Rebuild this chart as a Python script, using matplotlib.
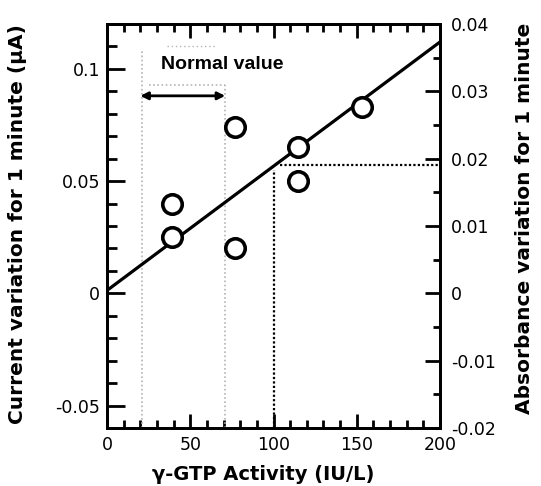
import numpy as np
import matplotlib.pyplot as plt
from matplotlib.ticker import MultipleLocator, FuncFormatter

plt.rcParams['axes.unicode_minus'] = False

# measured points (gamma-GTP activity vs current variation)
activity = [39, 39, 77, 77, 115, 115, 153]
current = [0.040, 0.025, 0.074, 0.020, 0.065, 0.050, 0.083]

# calibration line end points
fit_x = [0, 200]
fit_y = [0.0013, 0.112]

# normal range and the read-off example
normal_lo, normal_hi = 21, 71
read_x, read_y = 100, 0.057

xlim = (0, 200)
ylim_left = (-0.06, 0.12)
ylim_right = (-0.02, 0.04)
xticks = [0, 50, 100, 150, 200]
yticks_left = [-0.05, 0, 0.05, 0.1]

fmt = FuncFormatter(lambda v, p: '%g' % round(v, 4))

fig = plt.figure(figsize=(5.41, 4.86), dpi=100)
ax = fig.add_axes([0.1978, 0.1193, 0.6155, 0.8313])
ax2 = ax.twinx()

# grey dotted box for the normal value range
grey = '#b4b4b4'
ax.plot([normal_lo, normal_lo], [ylim_left[0], 0.108], ls=(0, (1, 1.5)), color=grey, lw=1.2)
ax.plot([normal_hi, normal_hi], [ylim_left[0], 0.093], ls=(0, (1, 1.5)), color=grey, lw=1.2)
ax.plot([normal_lo + 4, normal_hi], [0.093, 0.093], ls=(0, (1, 1.5)), color=grey, lw=1.2)
ax.plot([normal_lo + 15, normal_hi - 6], [0.110, 0.110], ls=(0, (1, 2)), color=grey, lw=1)

ax.annotate('', xy=(normal_lo - 1, 0.088), xytext=(normal_hi, 0.088),
            arrowprops=dict(arrowstyle='<|-|>', lw=2, color='black', mutation_scale=11,
                            shrinkA=0, shrinkB=0))
ax.text(32.5, 0.1018, 'Normal value', fontsize=14, fontweight='bold',
        family='Liberation Sans', ha='left', va='center')

# read-off dotted lines
ax.plot([read_x, read_x], [ylim_left[0], read_y - 0.002], ls=(0, (1, 1)), color='black', lw=1.6)
ax.plot([read_x + 4, xlim[1]], [read_y, read_y], ls=(0, (1, 1)), color='black', lw=1.6)

ax.plot(fit_x, fit_y, color='black', lw=2.3, zorder=3)
ax.plot(activity, current, 'o', ms=14, mfc='white', mec='black', mew=2.6, zorder=4,
        clip_on=False)

ax.set_xlim(*xlim)
ax.set_ylim(*ylim_left)
ax2.set_ylim(*ylim_right)

ax.set_xticks(xticks)
ax.xaxis.set_minor_locator(MultipleLocator(10))
ax.set_yticks(yticks_left)
ax.yaxis.set_minor_locator(MultipleLocator(0.01))
ax.yaxis.set_major_formatter(fmt)
ax2.yaxis.set_major_locator(MultipleLocator(0.01))
ax2.yaxis.set_minor_locator(MultipleLocator(0.005))
ax2.yaxis.set_major_formatter(fmt)

ax.tick_params(axis='x', which='both', direction='in', top=True, labelsize=12.5, width=2, pad=6)
ax.tick_params(axis='x', which='major', length=10)
ax.tick_params(axis='x', which='minor', length=5.5)
ax.tick_params(axis='y', which='both', direction='in', right=False, labelsize=12.5, width=2, pad=5)
ax.tick_params(axis='y', which='major', length=13)
ax.tick_params(axis='y', which='minor', length=7)
ax2.tick_params(axis='y', which='both', direction='in', labelsize=12.5, width=2, pad=8)
ax2.tick_params(axis='y', which='major', length=11)
ax2.tick_params(axis='y', which='minor', length=5)

for a in (ax, ax2):
    for s in a.spines.values():
        s.set_linewidth(2)

ax.set_xlabel('\u03b3-GTP Activity (IU/L)', fontsize=14, fontweight='bold', va='center')
ax.xaxis.set_label_coords(0.468, -0.114)
ax.set_ylabel('Current variation for 1 minute (\u03bcA)', fontsize=14.5, fontweight='bold',
              va='center', ha='center')
ax.yaxis.set_label_coords(-0.27, 0.505)
ax2.set_ylabel('Absorbance variation for 1 minute', fontsize=14.5, fontweight='bold',
               va='center', ha='center', rotation=90)
ax2.yaxis.set_label_coords(1.255, 0.52)

fig.savefig('out.png', dpi=100)
